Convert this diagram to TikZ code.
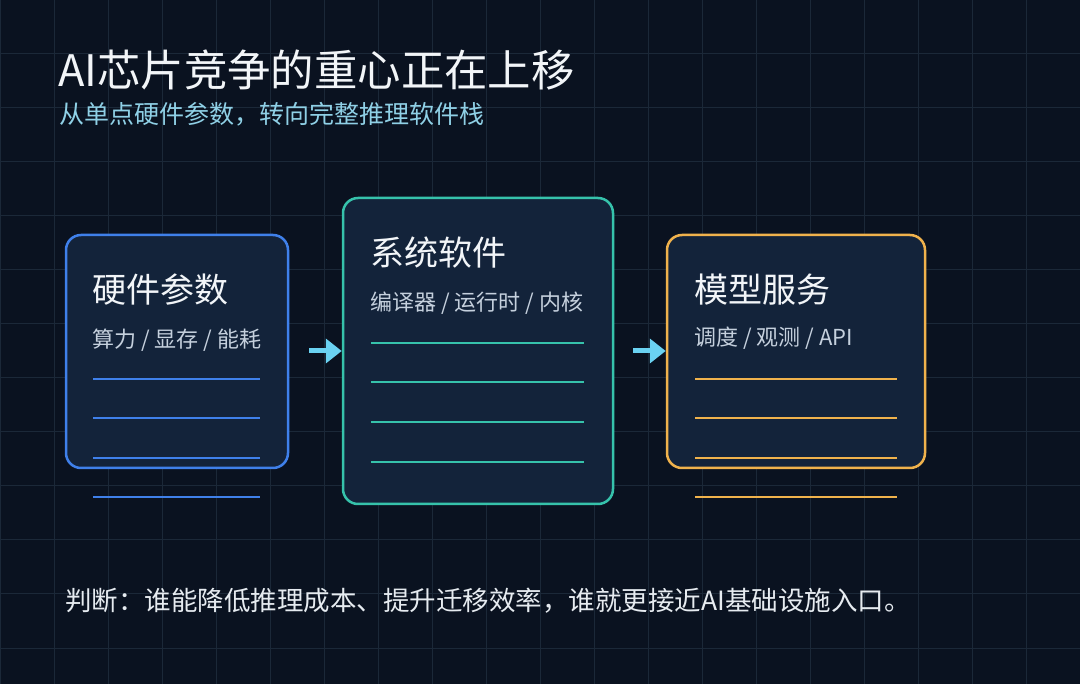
\documentclass[tikz,border=0pt]{standalone}
\usepackage{fontspec}
\setmainfont{Noto Sans CJK SC}
\usetikzlibrary{arrows.meta}
\definecolor{bgc}{HTML}{0A1220}
\definecolor{gridc}{HTML}{1B2838}
\definecolor{fillc}{HTML}{13233A}
\definecolor{bluec}{HTML}{3F80EA}
\definecolor{tealc}{HTML}{36C2AB}
\definecolor{orangec}{HTML}{F0B24C}
\definecolor{arrowc}{HTML}{6AD2F2}
\definecolor{titlec}{HTML}{F2F5F8}
\definecolor{subc}{HTML}{8FD0E6}
\definecolor{boxsubc}{HTML}{C5D0DD}
\definecolor{notec}{HTML}{E6EBF0}
\tikzset{
  panel/.style={draw, fill=fillc, line width=2.5pt, rounded corners=15pt, inner sep=0pt},
  boxtitle/.style={anchor=base west, inner sep=0pt, text=titlec, font=\fontsize{34}{40}\selectfont},
  boxsub/.style={anchor=base west, inner sep=0pt, text=boxsubc, font=\fontsize{22}{26}\selectfont},
  rule/.style={line width=2pt},
  flow/.style={line width=5pt, draw=arrowc, -{Triangle[length=16pt,width=24pt]}},
}
\begin{document}
\begin{tikzpicture}[x=1pt,y=-1pt]
\useasboundingbox (0,0) rectangle (1080,684);
\fill[bgc] (0,0) rectangle (1080,684);
\foreach \i in {0,...,20} { \draw[gridc, line width=1pt] (\i*54,0) -- (\i*54,684); }
\foreach \j in {0,...,12} { \draw[gridc, line width=1pt] (0,\j*54) -- (1080,\j*54); }

% headings
\node[anchor=base west, inner sep=0pt, text=titlec, font=\fontsize{43.4}{50}\selectfont] (title) at (58,87) {AI芯片竞争的重心正在上移};
\node[anchor=base west, inner sep=0pt, text=subc, font=\fontsize{25}{30}\selectfont] (subtitle) at (59,124) {从单点硬件参数，转向完整推理软件栈};

% panels
\node[panel, draw=bluec, minimum width=222pt, minimum height=233pt] (hw) at (177,351.5) {};
\node[panel, draw=tealc, minimum width=270pt, minimum height=306pt] (sys) at (478,351) {};
\node[panel, draw=orangec, minimum width=258pt, minimum height=233pt] (ms) at (796,351.5) {};

% panel texts
\node[boxtitle] (hwt) at (92,303) {硬件参数};
\node[boxsub] (hws) at (92,348) {算力 / 显存 / 能耗};
\node[boxtitle] (syst) at (370,266) {系统软件};
\node[boxsub] (syss) at (370,311) {编译器 / 运行时 / 内核};
\node[boxtitle] (mst) at (694,303) {模型服务};
\node[boxsub] (mss) at (694,346) {调度 / 观测 / API};

% rules
\foreach \y in {379,418,458,497} { \draw[rule, bluec] (93,\y) -- (260,\y); }
\foreach \y in {343,382,422,462} { \draw[rule, tealc] (371,\y) -- (584,\y); }
\foreach \y in {379,418,458,497} { \draw[rule, orangec] (695,\y) -- (897,\y); }

% arrows
\coordinate (a1) at (309,351);
\coordinate (a2) at (633,351);
\draw[flow] (a1) -- (sys.west |- a1);
\draw[flow] (a2) -- (ms.west |- a2);

% note
\node[anchor=base west, inner sep=0pt, text=notec, font=\fontsize{26.5}{32}\selectfont] (note) at (65,610) {判断：谁能降低推理成本、提升迁移效率，谁就更接近AI基础设施入口。};
\end{tikzpicture}
\end{document}
